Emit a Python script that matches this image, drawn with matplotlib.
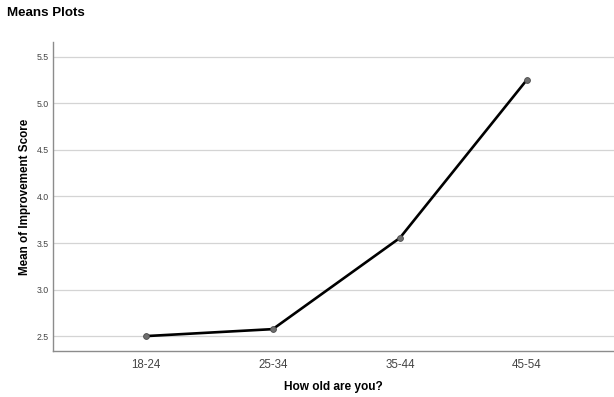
import matplotlib
matplotlib.use('Agg')
import matplotlib.pyplot as plt

# 数据
groups = ['18-24', '25-34', '35-44', '45-54']
means = [2.50, 2.575, 3.555, 5.255]
yticks = [2.5, 3.0, 3.5, 4.0, 4.5, 5.0, 5.5]

plt.rcParams['font.family'] = ['Liberation Sans', 'DejaVu Sans']

fig = plt.figure(figsize=(6.14, 3.97), dpi=100)
ax = fig.add_axes([53/614, 46/397, 1 - 53/614, (351 - 42)/397])

x = list(range(len(groups)))
ax.plot(x, means, color='black', lw=1.9, marker='o', ms=4.2,
        mfc='#6e6e6e', mec='#4a4a4a', mew=0.6, zorder=3)

ax.set_xlim(-0.73, 3.685)
ax.set_ylim(2.34, 5.66)
ax.set_xticks(x)
ax.set_xticklabels(groups, fontsize=8.3, color='#444444')
ax.set_yticks(yticks)
ax.set_yticklabels([f'{v:.1f}' for v in yticks], fontsize=6.3, color='#444444')
ax.tick_params(length=0)
ax.tick_params(axis='x', pad=6)
ax.tick_params(axis='y', pad=3)

ax.grid(axis='y', color='#d4d4d4', lw=0.9)
ax.set_axisbelow(True)
for s in ['top', 'right']:
    ax.spines[s].set_visible(False)
for s in ['left', 'bottom']:
    ax.spines[s].set_color('#8c8c8c')
    ax.spines[s].set_linewidth(1.0)

ax.set_xlabel('How old are you?', fontsize=8.6, fontweight='bold', labelpad=7)
ax.set_ylabel('Mean of Improvement Score', fontsize=8.4, fontweight='bold')
ax.yaxis.set_label_coords(-0.039, 0.5)

fig.text(7/614, 1 - 13/397, 'Means Plots', fontsize=9.6, fontweight='bold', va='center', ha='left')

fig.savefig('out.png', dpi=100)
